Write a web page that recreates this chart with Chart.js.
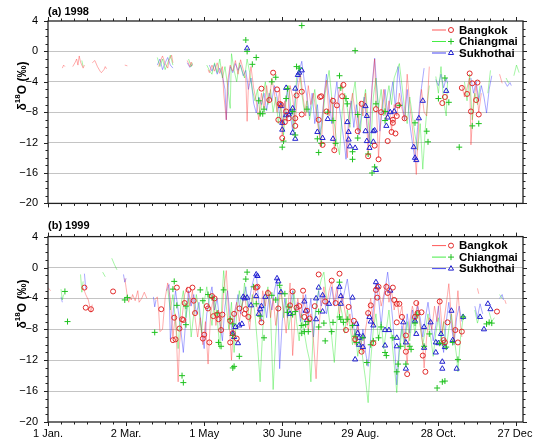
<!DOCTYPE html>
<html><head><meta charset="utf-8">
<script src="https://cdn.jsdelivr.net/npm/chart.js@4.4.0/dist/chart.umd.min.js"></script>
<style>html,body{margin:0;padding:0;background:#fff;}canvas{display:block;}</style>
</head><body>
<canvas id="c1" width="533" height="220"></canvas>
<canvas id="c2" width="533" height="226"></canvas>
<script>
// ---------- categories / ticks ----------
const stationNames = ['Bangkok', 'Chiangmai', 'Sukhothai'];
const panelTitles = ['(a) 1998', '(b) 1999'];
const xTickDays = [0, 60, 120, 180, 240, 300, 360];
const xTickLabels = ['1 Jan.', '2 Mar.', '1 May', '30 June', '29 Aug.', '28 Oct.', '27 Dec.'];
const yTickValues = [-20, -16, -12, -8, -4, 0, 4];

// ---------- 1998 daily lines [day-of-year offset, d18O]; null = gap ----------
const bkkLine98 = [[11,-2.2],[12,-1.8],[13,-2.0],[14,null],
[19,-2.0],[21,-1.4],[22,-1.0],[23,-1.8],[24,-0.6],[25,-1.4],[27,-2.2],[28,-1.8],[29,null],
[34,-1.5],[36,-1.2],[38,-2.0],[40,-2.6],[41,-2.8],[43,-2.4],[44,-2.0],[45,-2.3],[46,null],
[59,-1.8],[61,-1.9],[62,null],
[85,-2.0],[87,-1.0],[88,-0.6],[90,-1.6],[92,-2.2],[93,-1.2],[95,-0.5],[96,-1.5],[97,null],
[107,-1.2],[109,-2.0],[110,-1.4],[111,-1.9],[112,null],
[123,-2.4],[124,-2.8],[126,-1.8],[128,-2.6],[130,-1.5],[132,-2.9],[134,-2.0],[135,-5.5],[137,-9.0],[138,-4.0],[140,-1.8],[142,-2.6],[144,-1.2],[146,-3.0],[148,-1.1],[150,-2.4],[152,-3.5],[153,-9.2],[154,-4.5],[156,-2.0],[158,-4.8],[160,-6.5],[162,-9.0],[164,-5.5],[166,-7.5],[168,-4.5],[170,-6.8],[172,-3.5],[174,-5.5],[176,-8.0],[178,-5.0],[180,-11.0],[182,-6.5],[184,-9.0],[186,-4.5],[188,-6.0],[190,-9.5],[192,-5.0],[194,-3.0],[196,-6.0],[198,-8.5],[200,-4.5],[202,-7.0],[204,-5.5],[206,-8.0],[208,-10.5],[210,-12.5],[212,-6.0],[214,-3.8],[216,-8.5],[218,-6.0],[220,-13.0],[222,-7.0],[224,-5.0],[226,-4.2],[228,-9.5],[230,-14.0],[232,-7.5],[234,-5.5],[236,-8.0],[238,-10.5],[240,-6.5],[242,-8.5],[244,-5.5],[246,-13.5],[248,-7.0],[250,-3.0],[251,-1.0],[252,-6.0],[254,-14.0],[256,-8.0],[258,-5.0],[260,-9.0],[262,-6.5],[264,-10.5],[266,-7.0],[268,-8.5],[270,-5.5],[272,-7.5],[274,-9.0],[276,-3.0],[278,-7.0],[280,-10.0],[282,-13.5],[283,-16.2],[285,-9.0],[287,-5.0],[289,-8.0],[291,-8.5],[293,-2.0],[294,null],
[318,-4.5],[320,-6.0],[322,-4.8],[324,-3.5],[325,-12.3],[327,-6.5],[329,-4.5],[331,-8.0],[333,-5.5],[334,null],
[347,-3.0],[348,-3.6],[349,-4.2]];

const chmLine98 = [[26,-1.2],[27,-2.0],[28,null],
[84,-0.8],[86,-2.0],[88,-1.0],[90,-2.4],[92,-1.5],[94,-0.5],[96,-1.8],[97,null],
[108,-1.0],[110,-2.0],[111,-1.5],[112,null],
[122,-1.8],[124,-2.5],[126,-3.0],[128,-1.5],[130,-2.8],[132,-1.0],[134,-3.5],[136,-2.0],[138,-4.5],[140,-7.5],[141,-0.3],[143,-2.5],[145,-4.0],[147,-1.5],[149,-2.5],[151,-3.5],[153,-1.0],[155,-2.8],[157,-5.0],[159,-6.5],[161,-5.0],[163,-8.5],[165,-6.0],[167,-4.0],[169,-7.0],[171,-5.0],[173,-8.0],[175,-6.0],[177,-9.5],[179,-7.0],[181,-11.0],[183,-6.5],[185,-4.5],[187,-8.0],[189,-10.5],[191,-3.5],[193,-2.0],[195,-5.5],[197,-8.0],[199,-6.5],[201,-9.0],[203,-7.0],[205,-5.0],[207,-8.5],[209,-11.5],[211,-9.0],[213,-5.5],[215,-3.5],[216,-2.5],[218,-6.0],[220,-9.5],[222,-12.0],[224,-13.6],[226,-8.0],[228,-5.5],[230,-7.5],[232,-10.0],[234,-6.0],[236,-4.0],[238,-8.0],[240,-10.5],[242,-7.0],[244,-5.0],[246,-9.0],[248,-12.5],[250,-6.0],[252,-3.5],[254,-7.5],[256,-5.0],[258,-8.5],[260,-6.5],[262,-4.5],[264,-7.0],[266,-3.5],[268,-2.5],[270,-1.6],[272,-4.5],[274,-7.5],[276,-9.5],[278,-6.0],[280,-8.5],[282,-11.0],[284,-13.0],[286,-9.5],[288,-15.5],[290,-10.0],[292,-6.0],[293,-4.5],[294,null],
[298,-3.3],[300,-5.5],[302,-2.0],[304,-6.5],[306,-8.5],[307,-4.0],[308,null],
[320,-4.0],[322,-6.5],[324,-3.0],[326,-9.0],[328,-5.5],[330,-7.0],[332,-4.5],[333,null],
[338,-5.5],[340,-2.5],[341,null],
[352,-3.5],[354,-4.2],[355,null],
[358,-3.2],[360,-1.8],[362,-2.8]];

const sukLine98 = [[84,-1.8],[86,-1.0],[88,-2.4],[90,-1.5],[92,-0.8],[94,-1.8],[96,-2.2],[97,null],
[107,-1.5],[109,-2.1],[111,-1.7],[112,null],
[124,-1.8],[126,-2.6],[128,-1.7],[130,-3.0],[132,-2.2],[134,-3.2],[136,-5.0],[137,-9.0],[138,-5.5],[140,-2.0],[142,-2.8],[144,-1.6],[146,-2.5],[148,-1.8],[150,-3.2],[152,-2.5],[154,-5.0],[156,-3.5],[158,-6.8],[160,-8.1],[162,-6.0],[164,-7.0],[166,-5.5],[168,-7.8],[170,-5.5],[172,-6.5],[174,-4.5],[176,-6.0],[178,-8.5],[180,-9.8],[182,-7.0],[184,-5.0],[186,-8.0],[188,-10.5],[190,-6.0],[192,-3.5],[194,-2.0],[195,-1.3],[197,-4.0],[199,-6.0],[201,-8.5],[203,-5.5],[205,-9.5],[207,-7.0],[209,-11.0],[211,-8.0],[213,-4.5],[214,-3.0],[216,-6.0],[218,-9.5],[220,-6.5],[222,-4.0],[224,-7.5],[226,-10.0],[228,-12.5],[229,-14.2],[231,-9.0],[233,-6.5],[235,-10.0],[237,-7.0],[239,-11.0],[241,-8.0],[243,-6.0],[245,-9.5],[247,-12.0],[249,-4.5],[251,-0.9],[253,-5.5],[255,-10.5],[257,-7.5],[259,-5.0],[261,-8.5],[263,-6.0],[265,-4.0],[267,-7.5],[269,-2.0],[270,-3.5],[272,-6.5],[274,-9.0],[276,-5.0],[278,-9.5],[280,-12.0],[282,-14.4],[284,-10.0],[286,-6.0],[288,-3.5],[289,-2.2],[290,null],
[298,-3.7],[300,-4.5],[302,-3.0],[304,-4.8],[306,-3.5],[307,-4.2],[308,null],
[325,-3.5],[327,-5.5],[329,-4.0],[331,-6.5],[333,-4.5],[335,-6.0],[337,-8.1],[339,-5.0],[341,-3.2],[342,null],
[351,-4.0],[353,-4.6],[355,-4.1],[356,-4.5]];

// ---------- 1998 event samples (markers) ----------
const bkkPts98 = [[164,-4.9],[173,-2.8],[170,-6.4],[176,-5.0],[178,-6.9],[177,-9.0],[180,-11.4],[183,-7.9],[182,-9.3],[185,-8.8],[191,-5.8],[195,-5.3],[195,-8.3],[190,-9.8],[190,-8.8],[179,-7.0],[209,-6.0],[210,-5.9],[208,-9.0],[211,-12.3],[214,-7.9],[220,-13.0],[219,-6.5],[222,-7.1],[226,-5.9],[227,-4.4],[238,-10.5],[241,-6.9],[246,-13.8],[252,-7.6],[251,-12.4],[254,-14.2],[261,-11.8],[256,-8.0],[264,-10.6],[267,-10.8],[265,-9.4],[268,-8.5],[269,-7.1],[265,-9.0],[274,-8.8],[303,-6.8],[305,-6.0],[318,-4.8],[322,-5.6],[324,-2.9],[326,-4.2],[330,-4.1],[325,-7.9],[329,-6.4],[331,-8.3]];
const chmPts98 = [[152,1.5],[153,0],[160,-0.8],[157,-1.7],[162,-6.5],[163,-8.2],[166,-7.6],[165,-8.2],[172,-4.0],[175,-3.4],[180,-12.6],[181,-11.8],[184,-4.9],[183,-6.2],[191,-2.0],[195,3.4],[193,-2.2],[188,-7.9],[190,-11.0],[199,-7.6],[208,-13.3],[210,-12.1],[207,-11.5],[215,-8.0],[219,-9.1],[221,-12.1],[224,-3.2],[225,-4.8],[229,-6.2],[230,-6.9],[236,0.1],[238,-8.3],[234,-14.2],[234,-13.2],[238,-11.4],[246,-13.5],[249,-16.0],[251,-15.2],[252,-6.9],[259,-7.9],[259,-9.1],[270,-7.1],[282,-9.4],[291,-10.5],[292,-11.9],[305,-3.5],[308,-6.7],[300,-6.2],[316,-12.6],[326,-9.8],[331,-9.5]];
const sukPts98 = [[153,0.4],[183,-4.8],[190,-4.9],[192,-3.1],[193,-2.8],[195,-2.5],[179,-7.2],[183,-8.4],[185,-8.3],[188,-7.5],[180,-9.4],[180,-10.3],[188,-10.7],[190,-11.5],[207,-10.6],[211,-11.4],[215,-8.9],[219,-11.5],[230,-9.3],[231,-10.6],[231,-11.6],[232,-12.5],[236,-12.7],[244,-10.5],[245,-11.8],[247,-12.7],[250,-10.5],[250,-11.9],[252,-15.6],[244,-7.2],[245,-8.5],[261,-8.7],[260,-9.8],[263,-8.0],[266,-7.9],[281,-12.6],[282,-14.0],[283,-14.3],[285,-8.8],[288,-6.5],[306,-5.2],[186,-8.0],[251,-10.4]];

// ---------- 1999 daily lines ----------
const bkkLine99 = [[0,-2.6],[2,-3.0],[3,null],
[27,-2.6],[29,-3.5],[31,-4.2],[33,-5.8],[34,-4.8],[35,null],
[59,-1.4],[60,-2.6],[61,-3.8],[62,-4.5],[63,-3.8],[64,-4.2],[65,-3.5],[67,-4.3],[69,-3.0],[70,-4.5],[72,-4.0],[74,-3.2],[76,-4.0],[77,null],
[82,-4.2],[84,-3.8],[85,-5.5],[86,-8.3],[88,-8.0],[90,-4.0],[92,-2.0],[94,-4.0],[96,-9.0],[98,-6.0],[100,-14.8],[101,-10.0],[103,-6.5],[105,-3.5],[107,-2.5],[109,-5.0],[111,-3.0],[113,-6.5],[115,-9.0],[117,-6.5],[119,-10.0],[121,-7.0],[123,-12.5],[125,-6.0],[127,-4.0],[129,-7.5],[131,-5.5],[133,-8.5],[135,-3.0],[137,-0.4],[139,-6.5],[141,-12.0],[143,-6.0],[145,-4.5],[147,-7.0],[149,-5.0],[151,-3.5],[153,-6.0],[155,-8.0],[157,-4.0],[159,-2.5],[161,-5.5],[163,-7.0],[165,-3.0],[167,-5.0],[169,-2.8],[171,-6.5],[173,-4.0],[175,-7.5],[177,-5.0],[179,-3.0],[181,-5.5],[183,-8.5],[185,-4.0],[186,-2.0],[188,-11.4],[190,-6.0],[192,-4.0],[194,-6.5],[196,-3.5],[198,-5.5],[200,-8.0],[202,-6.0],[204,-9.5],[206,-14.4],[208,-8.0],[210,-4.5],[212,-2.5],[214,-5.0],[216,-3.0],[218,-1.8],[220,-4.5],[222,-2.5],[224,-6.0],[226,-3.5],[228,-5.5],[230,-7.5],[232,-6.0],[234,-8.5],[236,-10.0],[238,-7.5],[240,-9.0],[242,-11.0],[244,-8.0],[246,-6.0],[248,-4.0],[250,-7.5],[252,-3.0],[254,-2.5],[256,-5.0],[258,-3.5],[260,-2.0],[262,-4.5],[264,-3.0],[266,-5.5],[268,-4.0],[270,-6.5],[272,-5.0],[274,-9.0],[276,-12.5],[278,-7.0],[280,-5.0],[282,-6.5],[284,-4.5],[286,-7.5],[288,-10.0],[289,-13.0],[291,-9.0],[293,-6.5],[295,-8.0],[297,-5.0],[299,-7.0],[301,-4.0],[303,-8.5],[305,-6.0],[307,-3.5],[308,-2.1],[310,-6.5],[312,-9.5],[314,-5.0],[315,-3.0],[317,-7.5],[318,-9.0],[319,null],
[330,-2.7],[331,-3.4],[332,null],
[351,-4.2],[352,-4.7]];

const chmLine99 = [[10,-2.8],[11,-4.2],[12,-3.5],[13,null],
[25,-0.9],[26,-3.2],[27,-1.8],[28,null],
[42,-0.6],[44,-1.2],[45,null],
[49,1.2],[51,0.4],[53,-0.3],[54,null],
[59,-4.0],[61,-3.6],[62,null],
[92,-2.8],[94,-5.5],[96,-3.5],[98,-7.0],[100,-10.5],[102,-5.0],[104,-3.0],[106,-6.5],[108,-4.0],[110,-9.0],[112,-6.0],[114,-3.5],[116,-5.5],[118,-8.5],[120,-4.5],[122,-2.5],[124,-5.0],[126,-7.5],[128,-4.0],[130,-6.5],[132,-10.5],[134,-3.0],[135,-0.4],[137,-5.0],[139,-8.0],[141,-4.5],[143,-11.0],[145,-6.0],[147,-3.0],[149,-5.5],[151,-2.0],[153,-4.5],[155,-7.0],[157,-3.5],[159,-6.0],[161,-10.0],[163,-14.8],[165,-8.0],[167,-4.0],[169,-2.5],[171,-6.0],[173,-15.8],[175,-9.0],[177,-4.0],[179,-2.5],[181,-6.5],[183,-4.0],[185,-8.0],[187,-5.5],[189,-3.0],[191,-7.0],[193,-9.5],[195,-6.0],[197,-8.5],[199,-10.5],[201,-12.0],[202,-14.8],[204,-8.0],[206,-5.0],[208,-3.0],[210,-1.5],[212,-0.6],[214,-4.0],[216,-6.5],[218,-9.0],[220,-12.3],[222,-7.0],[224,-4.5],[226,-6.0],[228,-8.5],[230,-5.5],[232,-7.5],[234,-10.0],[236,-8.0],[238,-11.5],[240,-9.0],[242,-12.0],[244,-14.5],[246,-17.5],[248,-12.0],[250,-8.0],[252,-6.0],[254,-9.5],[256,-7.0],[258,-10.5],[260,-8.0],[262,-5.5],[264,-9.0],[266,-12.5],[268,-16.2],[270,-11.0],[272,-8.0],[274,-10.5],[276,-7.0],[278,-9.5],[280,-6.5],[282,-8.5],[284,-5.5],[286,-7.5],[288,-10.0],[290,-8.0],[292,-6.0],[294,-9.0],[296,-11.5],[298,-8.5],[300,-6.5],[302,-9.5],[304,-7.0],[306,-10.5],[308,-8.0],[310,-6.0],[312,-9.0],[314,-11.5],[315,-13.5],[317,-9.0],[319,-6.5],[320,null],
[328,-5.5],[330,-7.2],[332,-6.0],[333,null],
[339,-5.8],[341,-7.0],[343,-6.5],[344,null],
[347,-3.5],[349,-4.0]];

const sukLine99 = [[10,-3.8],[11,-4.5],[12,null],
[28,-0.8],[29,-2.8],[30,null],
[58,-0.9],[59,-1.9],[60,-1.4],[61,null],
[81,-3.8],[82,-5.1],[83,-4.2],[84,null],
[91,-3.0],[93,-2.2],[94,-9.3],[96,-6.0],[98,-3.0],[100,-5.5],[102,-8.0],[104,-11.0],[106,-6.5],[108,-3.0],[110,-5.0],[112,-3.5],[114,-6.0],[116,-4.5],[118,-8.0],[120,-10.5],[122,-6.0],[124,-4.0],[126,-2.5],[128,-5.5],[130,-4.0],[132,-7.0],[134,-9.5],[136,-5.0],[138,-3.0],[140,-6.5],[142,-9.0],[144,-5.5],[146,-3.5],[148,-6.0],[150,-4.0],[152,-2.5],[154,-5.0],[156,-3.0],[158,-1.5],[160,-0.8],[162,-4.5],[164,-7.0],[166,-4.0],[168,-6.5],[170,-3.5],[172,-5.5],[174,-3.0],[176,-1.4],[178,-13.1],[180,-7.0],[182,-4.0],[184,-6.5],[186,-5.0],[188,-3.0],[190,-6.0],[192,-4.5],[194,-7.0],[196,-5.0],[198,-3.5],[200,-6.5],[202,-4.0],[204,-9.0],[206,-5.5],[208,-3.0],[210,-5.0],[212,-3.5],[214,-6.0],[216,-4.5],[218,-2.5],[220,-5.0],[222,-3.5],[224,-2.0],[226,-4.5],[228,-3.0],[230,-1.5],[232,-4.0],[234,-6.5],[236,-9.0],[238,-7.0],[240,-10.5],[242,-8.0],[244,-11.0],[246,-12.8],[248,-9.0],[250,-5.5],[252,-2.0],[254,-4.0],[256,-7.5],[258,-4.0],[261,-0.6],[263,-3.5],[265,-7.0],[267,-12.0],[268,-15.2],[270,-10.0],[272,-7.5],[274,-9.5],[276,-6.0],[278,-8.5],[280,-5.5],[282,-7.0],[284,-5.0],[286,-6.5],[288,-9.0],[290,-6.5],[292,-4.5],[294,-7.0],[296,-9.5],[298,-7.5],[300,-5.0],[302,-8.5],[304,-11.0],[306,-7.0],[308,-4.5],[310,-7.5],[312,-10.0],[314,-6.5],[316,-5.0],[318,-7.0],[319,null],
[328,-5.0],[330,-6.5],[332,-4.7],[334,-6.0],[335,null],
[347,-4.0],[349,-3.5],[350,-4.2]];

// ---------- 1999 event samples (markers) ----------
const bkkPts99 = [[28,-2.6],[29,-5.2],[33,-5.4],[50,-3.1],[87,-5.4],[97,-6.5],[99,-2.6],[96,-9.4],[98,-9.3],[101,-7.9],[103,-6.7],[104,-6.8],[105,-4.6],[108,-2.9],[111,-2.6],[112,-4.3],[113,-5.9],[122,-5.0],[123,-5.3],[120,-8.7],[119,-9.2],[124,-9.7],[126,-3.7],[128,-4.0],[130,-6.1],[131,-6.7],[134,-6.1],[133,-8.1],[127,-6.3],[140,-6.9],[140,-9.7],[142,-8.5],[143,-6.0],[145,-9.2],[147,-5.3],[151,-6.0],[152,-5.4],[154,-6.4],[160,-2.6],[161,-2.5],[164,-7.1],[169,-3.3],[177,-5.3],[186,-4.9],[188,-3.1],[191,-5.2],[193,-5.0],[196,-3.0],[197,-6.4],[199,-5.6],[201,-6.6],[208,-0.9],[205,-5.0],[213,-4.4],[218,-1.7],[221,-4.6],[224,-0.8],[231,-5.1],[229,-8.1],[235,-6.9],[236,-9.3],[241,-10.9],[246,-5.9],[248,-4.9],[250,-9.8],[252,-2.9],[254,-2.5],[253,-3.9],[260,-2.5],[261,-3.3],[265,-2.6],[266,-4.2],[268,-4.7],[270,-4.7],[268,-7.1],[272,-6.4],[275,-8.8],[275,-10.9],[276,-13.8],[282,-6.4],[284,-5.9],[283,-4.6],[287,-5.8],[288,-11.4],[290,-13.5],[301,-4.4],[307,-7.1],[313,-8.1],[315,-9.7],[318,-8.3],[304,-9.4],[305,-9.7],[345,-5.7]];
const chmPts99 = [[13,-3.1],[15,-7.0],[59,-4.2],[61,-3.9],[82,-8.4],[97,-1.8],[96,-2.8],[99,-4.9],[106,-5.0],[106,-7.4],[103,-14.0],[104,-14.9],[117,-2.9],[119,-4.3],[123,-3.5],[126,-3.9],[130,-5.9],[131,-9.7],[133,-10.2],[135,-2.9],[140,-6.7],[142,-7.3],[142,-8.8],[147,-11.5],[143,-12.8],[142,-13.0],[153,-0.6],[152,-1.5],[158,-2.5],[160,-4.7],[163,-6.3],[166,-9.1],[172,-3.6],[175,-4.2],[178,-2.3],[182,-3.4],[184,-5.8],[185,-5.1],[188,-6.1],[190,-5.7],[195,-7.5],[198,-7.4],[197,-8.3],[200,-7.0],[195,-8.5],[200,-8.3],[208,-5.7],[208,-7.7],[212,-7.2],[213,-9.5],[218,-8.3],[219,-7.1],[224,-6.4],[225,-6.7],[224,-1.9],[227,-7.1],[230,-6.7],[234,-7.5],[236,-8.9],[237,-9.7],[242,-9.1],[245,-12.3],[248,-10.0],[250,-9.5],[254,-9.1],[259,-11.0],[260,-11.4],[256,-7.7],[265,-9.1],[268,-13.5],[269,-12.5],[271,-10.2],[275,-12.5],[279,-10.6],[282,-7.2],[278,-10.2],[283,-6.1],[289,-10.2],[293,-8.6],[301,-9.8],[303,-9.8],[306,-10.3],[311,-9.7],[315,-11.9],[299,-15.6],[303,-14.8],[305,-14.7],[319,-6.4],[337,-7.3],[339,-7.1],[341,-7.2]];
const sukPts99 = [[150,-3.8],[151,-4.0],[160,-0.9],[161,-1.1],[156,-4.9],[163,-5.4],[164,-5.0],[162,-6.0],[142,-8.6],[143,-9.0],[144,-7.7],[147,-7.5],[149,-7.3],[146,-9.8],[176,-1.4],[177,-1.8],[179,-3.2],[186,-6.0],[199,-6.8],[197,-4.4],[167,-3.8],[160,-3.7],[153,-3.9],[198,-5.6],[208,-2.6],[206,-4.0],[211,-3.6],[211,-5.7],[206,-6.7],[216,-4.7],[224,-2.5],[225,-3.7],[225,-4.7],[234,-3.9],[237,-7.3],[236,-11.9],[238,-8.5],[239,-9.1],[239,-10.0],[242,-10.3],[242,-8.9],[247,-6.4],[248,-7.0],[250,-7.5],[252,-1.9],[253,-2.5],[259,-8.1],[262,-8.1],[259,-10.1],[263,-3.0],[268,-9.1],[268,-10.2],[273,-7.1],[275,-9.7],[275,-13.1],[283,-8.6],[282,-6.9],[289,-7.7],[289,-10.4],[294,-7.1],[298,-11.0],[298,-9.7],[300,-9.8],[302,-8.6],[303,-12.2],[303,-13.1],[305,-10.3],[310,-5.6],[311,-9.4],[314,-13.1],[319,-6.4],[332,-6.4],[335,-8.0],[338,-4.7],[340,-5.4]];

// ---------- styles ----------
const FONT = '"Liberation Sans", Arial, Helvetica, sans-serif';
const lineCols = ['rgba(255,50,50,0.4)', 'rgba(30,230,30,0.4)', 'rgba(40,40,255,0.4)'];
const legendLineCols = ['rgba(255,70,70,0.9)', 'rgba(50,235,50,0.9)', 'rgba(50,50,240,0.9)'];
const markCols = ['#e02a2a', '#1fc21f', '#2020d0'];
const markStyles = ['circle', 'cross', 'triangle'];
const markRadii = [2.5, 3, 3];

const toXY = arr => arr.map(p => ({ x: p[0], y: p[1] }));

function drawMarker(ctx, i, x, y) {
  ctx.save();
  ctx.strokeStyle = markCols[i]; ctx.lineWidth = 1;
  ctx.beginPath();
  const r = markRadii[i];
  if (i === 0) { ctx.arc(x, y, r, 0, Math.PI * 2); }
  else if (i === 1) { ctx.moveTo(x - r, y); ctx.lineTo(x + r, y); ctx.moveTo(x, y - r); ctx.lineTo(x, y + r); }
  else {
    for (let k = 0; k < 3; k++) {
      const a = k * 2 * Math.PI / 3;
      const px = x + Math.sin(a) * r, py = y - Math.cos(a) * r;
      if (k === 0) ctx.moveTo(px, py); else ctx.lineTo(px, py);
    }
    ctx.closePath();
  }
  ctx.stroke();
  ctx.restore();
}

const decor = {
  id: 'decor',
  afterDatasetsDraw(chart, args, o) {
    const ctx = chart.ctx, a = chart.chartArea;
    const rows = [9, 20.5, 32];
    ctx.save();
    stationNames.forEach((name, i) => {
      const y = a.top + rows[i];
      ctx.strokeStyle = legendLineCols[i]; ctx.lineWidth = 1;
      ctx.beginPath(); ctx.moveTo(432, y); ctx.lineTo(446, y); ctx.stroke();
      drawMarker(ctx, i, 451, y);
      ctx.fillStyle = '#000'; ctx.font = 'bold 11.5px ' + FONT;
      ctx.textAlign = 'left'; ctx.textBaseline = 'middle';
      ctx.fillText(name, 459, y + 0.5);
    });
    ctx.restore();
  },
  afterDraw(chart, args, o) {
    const ctx = chart.ctx, a = chart.chartArea;
    const xs = chart.scales.x, ys = chart.scales.y;
    ctx.save();
    ctx.strokeStyle = '#222'; ctx.lineWidth = 1;
    ctx.beginPath();
    for (let d = 0; d <= 365; d += 10) {
      const px = Math.round(xs.getPixelForValue(d)) + 0.5;
      const L = (d % 60 === 0) ? 4 : 2.5;
      ctx.moveTo(px, a.bottom); ctx.lineTo(px, a.bottom + L);
      ctx.moveTo(px, a.top); ctx.lineTo(px, a.top - L);
    }
    for (let v = -20; v <= 4; v += 1) {
      const py = Math.round(ys.getPixelForValue(v)) + 0.5;
      const L = (v % 4 === 0) ? 4 : 2.5;
      ctx.moveTo(a.left, py); ctx.lineTo(a.left - L, py);
      ctx.moveTo(a.right, py); ctx.lineTo(a.right + L, py);
    }
    ctx.stroke();
    ctx.lineWidth = 1.3;
    ctx.strokeRect(a.left, a.top, a.right - a.left, a.bottom - a.top);
    ctx.fillStyle = '#000';
    ctx.font = 'bold 11px ' + FONT;
    ctx.textAlign = 'left'; ctx.textBaseline = 'alphabetic';
    ctx.fillText(o.title, a.left, o.titleY);
    ctx.translate(19, o.yTitleY);
    ctx.rotate(-Math.PI / 2);
    const f1 = 'bold 12px ' + FONT, f2 = 'bold 8px ' + FONT;
    ctx.font = f1; const w1 = ctx.measureText('δ').width, w3 = ctx.measureText('O (‰)').width;
    ctx.font = f2; const w2 = ctx.measureText('18').width;
    let x0 = -(w1 + w2 + w3) / 2;
    ctx.textBaseline = 'middle';
    ctx.font = f1; ctx.fillText('δ', x0, 4);
    ctx.font = f2; ctx.fillText('18', x0 + w1, -1);
    ctx.font = f1; ctx.fillText('O (‰)', x0 + w1 + w2, 4);
    ctx.restore();
  }
};

function makeDatasets(lines, pts) {
  const ds = [];
  pts.forEach((p, i) => ds.push({
    label: stationNames[i] + ' samples', data: toXY(p), showLine: false,
    pointStyle: markStyles[i], pointRadius: markRadii[i], pointBorderColor: markCols[i],
    pointBackgroundColor: 'rgba(0,0,0,0)', pointBorderWidth: 1, order: 1
  }));
  lines.forEach((l, i) => ds.push({
    label: stationNames[i], data: toXY(l), showLine: true, spanGaps: false,
    borderColor: lineCols[i], borderWidth: 1, pointRadius: 0, tension: 0, order: 2
  }));
  return ds;
}

function makeChart(id, lines, pts, showX, padTop, xH, title, titleY, yTitleY) {
  return new Chart(document.getElementById(id), {
    type: 'line',
    data: { datasets: makeDatasets(lines, pts) },
    options: {
      responsive: false, animation: false, devicePixelRatio: 1,
      layout: { padding: { left: 0, right: 10, top: padTop, bottom: 0 } },
      plugins: { legend: { display: false }, tooltip: { enabled: false },
                 decor: { title: title, titleY: titleY, yTitleY: yTitleY } },
      scales: {
        x: {
          type: 'linear', min: 0, max: 365,
          afterBuildTicks: s => { s.ticks = xTickDays.map(v => ({ value: v })); },
          afterFit: s => { s.height = xH; s.paddingLeft = 0; s.paddingRight = 0; },
          grid: { display: false, drawTicks: false },
          border: { display: false },
          ticks: {
            display: showX, autoSkip: false, maxRotation: 0, padding: 5,
            color: '#000', font: { family: FONT, size: 11 },
            callback: v => xTickLabels[xTickDays.indexOf(v)] || ''
          }
        },
        y: {
          min: -20, max: 4,
          afterBuildTicks: s => { s.ticks = yTickValues.map(v => ({ value: v })); },
          afterFit: s => { s.width = 48; },
          grid: { drawTicks: false, lineWidth: 1,
                  color: c => (c.tick && (c.tick.value === 4 || c.tick.value === -20)) ? 'rgba(0,0,0,0)' : '#c4c4c4' },
          border: { display: false },
          ticks: { padding: 10, color: '#000', font: { family: FONT, size: 11 },
                   callback: v => String(v).replace('-', '\u2212') }
        }
      }
    },
    plugins: [decor]
  });
}

makeChart('c1', [bkkLine98, chmLine98, sukLine98], [bkkPts98, chmPts98, sukPts98], false, 21, 9, panelTitles[0], 15, 86);
makeChart('c2', [bkkLine99, chmLine99, sukLine99], [bkkPts99, chmPts99, sukPts99], true, 14, 24, panelTitles[1], 9, 84);
</script>
</body></html>
